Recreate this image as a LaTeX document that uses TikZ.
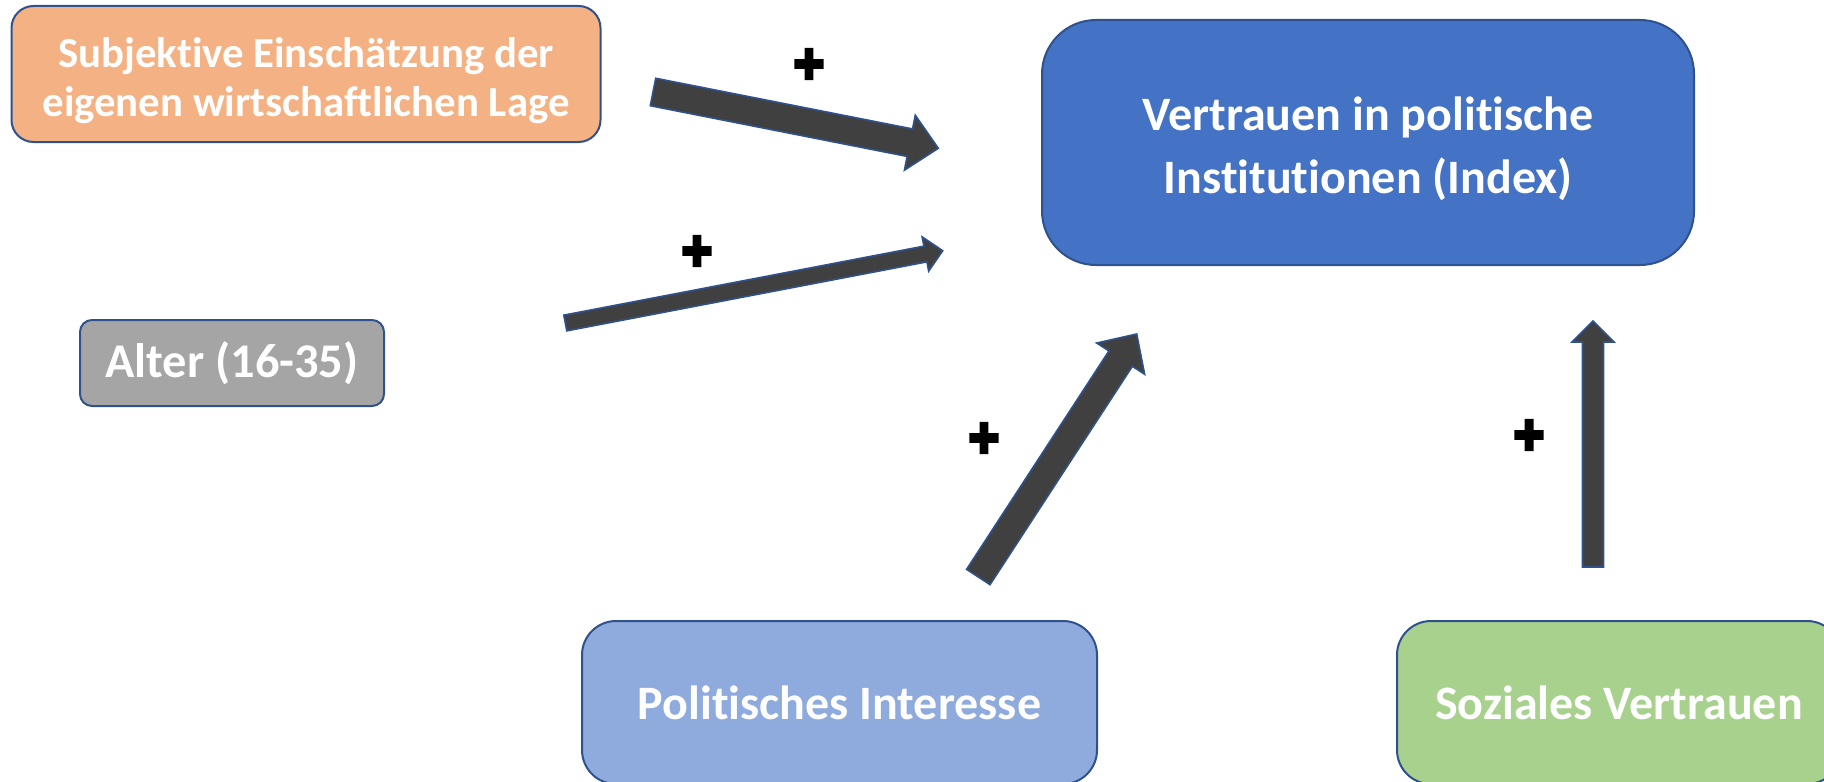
\documentclass[tikz,border=0pt]{standalone}
\usepackage{fontspec}
\setmainfont{Carlito}[Ligatures=NoCommon]
\newfontfamily\symfont{DejaVu Sans}[BoldFont={DejaVu Sans}, BoldFeatures={FakeBold=4}]
\usetikzlibrary{calc}
\definecolor{boxorange}{HTML}{F4B183}
\definecolor{boxblue}{HTML}{4472C4}
\definecolor{boxgray}{HTML}{A5A5A5}
\definecolor{boxlightblue}{HTML}{8FAADC}
\definecolor{boxgreen}{HTML}{A9D18E}
\definecolor{edgeblue}{HTML}{2F528F}
\definecolor{arrowfill}{HTML}{404040}
\tikzset{
  varbox/.style={draw=edgeblue, line width=1pt, text=white, align=center,
    inner sep=0pt, font=\bfseries},
  blockarrow/.style={fill=arrowfill, draw=edgeblue, line width=0.8pt, line join=miter},
  plussign/.style={font=\symfont\bfseries\fontsize{19}{19}\selectfont, text=black, inner sep=0pt, yscale=1.1}
}
\newcommand{\blockarr}[5]{%
  \coordinate (ba-b) at ($(#2)!#5!(#1)$);
  \draw[blockarrow] ($(#1)!#3!90:(#2)$) -- ($(ba-b)!#3!-90:(#1)$) -- ($(ba-b)!#4!-90:(#1)$)
    -- (#2) -- ($(ba-b)!#4!90:(#1)$) -- ($(ba-b)!#3!90:(#1)$) -- ($(#1)!#3!-90:(#2)$) -- cycle;
}
\begin{document}
\begin{tikzpicture}[x=0.5pt,y=-0.5pt]
\useasboundingbox (0,0) rectangle (1824,781);
\clip (0,0) rectangle (1824,781);

% boxes
\node[varbox, fill=boxorange, rounded corners=11pt, minimum width=294.5pt, minimum height=68pt,
  font=\bfseries\fontsize{21.4}{24.5}\selectfont] (sub) at (306,74)
  {\rule{0pt}{22pt}Subjektive Einschätzung der\\eigenen wirtschaftlichen Lage};
\node[varbox, fill=boxblue, rounded corners=27pt, minimum width=326pt, minimum height=122.5pt,
  font=\bfseries\fontsize{24}{31.6}\selectfont] (vpi) at (1368,142.5)
  {\rule{0pt}{23pt}Vertrauen in politische\\Institutionen (Index)};
\node[varbox, fill=boxgray, rounded corners=6pt, minimum width=152pt, minimum height=43pt,
  font=\bfseries\fontsize{24.2}{28}\selectfont] (alt) at (232,363)
  {Alter (16-35)};
\node[varbox, fill=boxlightblue, rounded corners=17pt, minimum width=257.5pt, minimum height=81.5pt,
  font=\bfseries\fontsize{24}{28}\selectfont] (pol) at (839.5,702.5)
  {Politisches Interesse};
\node[varbox, fill=boxgreen, rounded corners=17pt, minimum width=222pt, minimum height=81.5pt,
  font=\bfseries\fontsize{24}{28}\selectfont] (soz) at (1619,702.5)
  {Soziales Vertrauen};

% arrow end points
\coordinate (a1t) at (653,92);     \coordinate (a1h) at (938.3,148.3);
\coordinate (a2t) at (565.3,323);  \coordinate (a2h) at (942.7,250.7);
\coordinate (a3t) at (978.3,577);  \coordinate (a3h) at (1136.7,334);
\coordinate (a4t) at (1593,567);   \coordinate (a4h) at (1593,321);

\blockarr{a1t}{a1h}{7pt}{14pt}{14.5pt}
\blockarr{a2t}{a2h}{4pt}{8.7pt}{8.8pt}
\blockarr{a3t}{a3h}{7pt}{14.3pt}{14.7pt}
\blockarr{a4t}{a4h}{5.25pt}{10.5pt}{10.5pt}

% plus signs
\node[plussign] (p1) at (809,64) {✚};
\node[plussign] (p2) at (697,251) {✚};
\node[plussign] (p3) at (984,438) {✚};
\node[plussign] (p4) at (1529,435) {✚};
\end{tikzpicture}
\end{document}
